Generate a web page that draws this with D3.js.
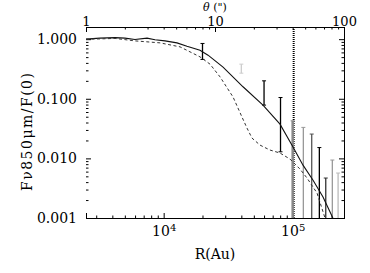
<!DOCTYPE html>
<html>
<head>
<meta charset="utf-8">
<script src="https://cdn.jsdelivr.net/npm/d3@7"></script>
<style>
  body { margin: 0; background: #fff; }
  text { font-family: "DejaVu Serif", serif; fill: #000; }
</style>
</head>
<body>
<div id="chart"></div>
<script>
// radial profile, R in AU, normalised flux
var solidR = [2500, 3210, 4200, 5010, 5990, 7430, 8570, 10240, 12680, 15160, 19130, 22080, 28860, 41220, 58880, 79770, 100600, 120300, 143900, 171900, 205000];
var solidF = [1.00, 1.04, 1.06, 1.04, 0.99, 1.04, 0.98, 0.936, 0.867, 0.763, 0.654, 0.539, 0.339, 0.159, 0.078, 0.0375, 0.0155, 0.0077, 0.0043, 0.00225, 0.001];

var dashR = [2500, 3210, 4200, 5990, 9370, 13390, 19130, 22870, 27350, 34510, 40490, 44260, 48400, 55850, 66730, 79770, 95300, 114000, 129200, 154500, 178100];
var dashF = [1.00, 1.01, 1.03, 0.936, 0.867, 0.743, 0.505, 0.381, 0.233, 0.107, 0.0493, 0.0322, 0.0219, 0.0167, 0.0138, 0.0123, 0.00975, 0.00662, 0.00468, 0.00262, 0.001];

// error bars
var errR  = [20000, 40000, 60000, 80500, 100000, 121000, 140500, 161000, 180500, 203000, 225000];
var errHi = [0.847, 0.381, 0.200, 0.105, 0.0427, 0.0331, 0.0256, 0.0152, 0.00468, 0.00938, 0.00568];
var errLo = [0.457, 0.269, 0.0783, 0.0129, 0.0003, 0.0003, 0.0003, 0.0003, 0.0003, 0.0003, 0.0003];
var errCol = ["#000", "#ccc", "#000", "#000", "#888", "#999", "#555", "#000", "#333", "#999", "#bbb"];

var yTicks = [1, 0.1, 0.01, 0.001];
var xTicks = [1e4, 1e5];
var thetaTicks = [1, 10, 100];

var W = 370, H = 273;
var mLeft = 86, mRight = 344, mTop = 27, mBottom = 218;

var x = d3.scaleLog().domain([2500, 250000]).range([mLeft, mRight]);
var xt = d3.scaleLog().domain([1, 100]).range([mLeft, mRight]);
var y = d3.scaleLog().domain([0.001, 1.6]).range([mBottom, mTop]);

var svg = d3.select("#chart").append("svg")
  .attr("width", W)
  .attr("height", H);

svg.append("clipPath").attr("id", "clip")
  .append("rect")
  .attr("x", mLeft).attr("y", mTop)
  .attr("width", mRight - mLeft).attr("height", mBottom - mTop);

function minors(lo, hi) {
  var out = [];
  for (var d = Math.pow(10, Math.floor(Math.log10(lo))); d < hi; d *= 10) {
    for (var k = 2; k < 10; k++) {
      var v = k * d;
      if (v > lo && v < hi) out.push(v);
    }
  }
  return out;
}

function styleAxis(g) {
  g.selectAll("line").attr("stroke", "#000");
  g.selectAll("path").attr("stroke", "#000");
  g.selectAll("text").style("font-size", "14px").style("font-family", "DejaVu Serif");
}

// bottom axis
svg.append("g")
  .attr("transform", "translate(0," + mBottom + ")")
  .call(d3.axisBottom(x).tickValues(minors(2500, 250000)).tickSize(-2.5).tickFormat(""))
  .call(styleAxis);
var bx = svg.append("g")
  .attr("transform", "translate(0," + mBottom + ")")
  .call(d3.axisBottom(x).tickValues(xTicks).tickSize(-5).tickFormat(""))
  .call(styleAxis);
bx.selectAll(".tick").append("text")
  .attr("y", 18)
  .attr("text-anchor", "middle")
  .attr("fill", "#000")
  .style("font-size", "14px")
  .each(function(d) {
    var t = d3.select(this);
    t.append("tspan").text("10");
    t.append("tspan").attr("dy", -5).style("font-size", "10px").text(Math.round(Math.log10(d)));
  });

// top axis (theta)
svg.append("g")
  .attr("transform", "translate(0," + mTop + ")")
  .call(d3.axisTop(xt).tickValues(minors(1, 100)).tickSize(-2.5).tickFormat(""))
  .call(styleAxis);
var tx = svg.append("g")
  .attr("transform", "translate(0," + mTop + ")")
  .call(d3.axisTop(xt).tickValues(thetaTicks).tickSize(-5).tickPadding(1).tickFormat(d3.format("d")))
  .call(styleAxis);
tx.selectAll("text").style("font-size", "13px");

// left axis, no spine
var ly = svg.append("g")
  .attr("transform", "translate(" + mLeft + ",0)")
  .call(d3.axisLeft(y).tickValues(minors(0.001, 1.6)).tickSize(-2.5).tickFormat(""))
  .call(styleAxis);
ly.select(".domain").remove();
var ly2 = svg.append("g")
  .attr("transform", "translate(" + mLeft + ",0)")
  .call(d3.axisLeft(y).tickValues(yTicks).tickSize(-5).tickPadding(9).tickFormat(d3.format(".3f")))
  .call(styleAxis);
ly2.select(".domain").remove();

// right axis
svg.append("g")
  .attr("transform", "translate(" + mRight + ",0)")
  .call(d3.axisRight(y).tickValues(minors(0.001, 1.6)).tickSize(-2.5).tickFormat(""))
  .call(styleAxis);
svg.append("g")
  .attr("transform", "translate(" + mRight + ",0)")
  .call(d3.axisRight(y).tickValues(yTicks).tickSize(-5).tickFormat(""))
  .call(styleAxis);

// titles
svg.append("text")
  .attr("x", (mLeft + mRight) / 2).attr("y", 10.5)
  .attr("text-anchor", "middle")
  .style("font-size", "11px")
  .html('<tspan font-style="italic">θ</tspan> (")');

svg.append("text")
  .attr("x", (mLeft + mRight) / 2).attr("y", 259)
  .attr("text-anchor", "middle")
  .style("font-size", "14px")
  .text("R(Au)");

svg.append("text")
  .attr("transform", "translate(32,132) rotate(-90)")
  .attr("text-anchor", "middle")
  .attr("textLength", 118)
  .attr("lengthAdjust", "spacing")
  .style("font-size", "14px")
  .text("Fν850μm/F(0)");

var plot = svg.append("g").attr("clip-path", "url(#clip)");

// vertical dotted marker at 1e5
plot.append("line")
  .attr("x1", x(1e5) + 1).attr("x2", x(1e5) + 1)
  .attr("y1", mTop).attr("y2", mBottom)
  .attr("stroke", "#000")
  .attr("stroke-width", 2)
  .attr("stroke-dasharray", "1,1");

// error bars
var errs = errR.map(function(r, i) { return {r: r, hi: errHi[i], lo: errLo[i], c: errCol[i]}; });
var eb = plot.selectAll(".err").data(errs).enter().append("g").attr("class", "err");
eb.append("line")
  .attr("x1", function(d) { return x(d.r); })
  .attr("x2", function(d) { return x(d.r); })
  .attr("y1", function(d) { return y(d.hi); })
  .attr("y2", function(d) { return y(d.lo); })
  .attr("stroke", function(d) { return d.c; })
  .attr("stroke-width", function(d, i) { return i == 4 ? 2.5 : 1.3; });
eb.append("line")
  .attr("x1", function(d) { return x(d.r) - 2; })
  .attr("x2", function(d) { return x(d.r) + 2; })
  .attr("y1", function(d) { return y(d.hi); })
  .attr("y2", function(d) { return y(d.hi); })
  .attr("stroke", function(d) { return d.c; });
eb.append("line")
  .attr("x1", function(d) { return x(d.r) - 2; })
  .attr("x2", function(d) { return x(d.r) + 2; })
  .attr("y1", function(d) { return y(d.lo); })
  .attr("y2", function(d) { return y(d.lo); })
  .attr("stroke", function(d) { return d.c; });

// profiles
var line = d3.line()
  .x(function(d) { return x(d[0]); })
  .y(function(d) { return y(d[1]); });

plot.append("path")
  .datum(d3.zip(solidR, solidF))
  .attr("d", line)
  .attr("fill", "none")
  .attr("stroke", "#111")
  .attr("stroke-width", 1.1);

plot.append("path")
  .datum(d3.zip(dashR, dashF))
  .attr("d", line)
  .attr("fill", "none")
  .attr("stroke", "#333")
  .attr("stroke-width", 1)
  .attr("stroke-dasharray", "3,2.5");
</script>
</body>
</html>
